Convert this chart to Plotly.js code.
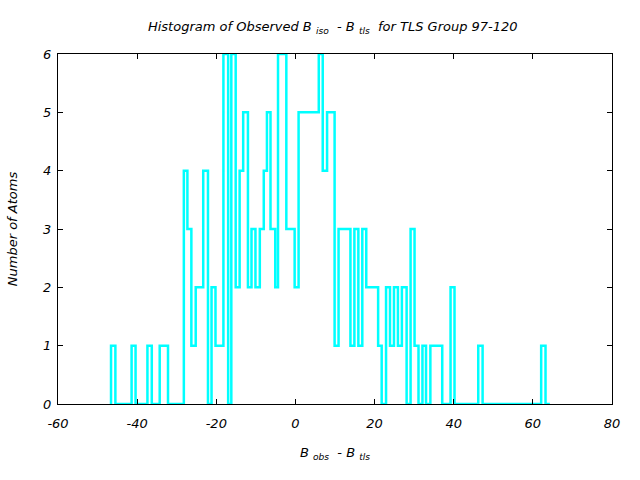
<!DOCTYPE html>
<html>
<head>
<meta charset="utf-8">
<script src="https://cdn.plot.ly/plotly-3.0.1.min.js"></script>
<style>html,body{margin:0;padding:0;background:#fff;}#chart{width:640px;height:480px;}</style>
</head>
<body>
<div id="chart"></div>
<script>
// Step edges (B_obs - B_tls) and count level after each edge
const binEdges = [-46.6, -46.6, -45.5, -41.4, -40.4, -37.4, -36.3, -34.3, -32.2,
  -28.2, -27.3, -26.3, -25.2, -23.3, -22.1, -21.2, -20.2, -18.2, -17.0, -16.2,
  -15.1, -14.1, -13.2, -12.0, -11.1, -10.1, -9.0, -8.0, -7.2, -6.3, -5.1, -4.4,
  -2.3, -0.2, 0.8, 5.9, 6.9, 8.0, 9.9, 10.9, 13.9, 14.9, 15.9, 16.9, 17.9, 20.9,
  21.8, 22.9, 23.9, 24.9, 25.9, 26.9, 28.1, 29.1, 30.1, 31.1, 32.1, 33.0, 34.1,
  37.1, 39.2, 40.2, 46.2, 47.3, 62.1, 63.2, 64.3];
const counts = [0, 1, 0, 1, 0, 1, 0, 1, 0,
  4, 3, 1, 2, 4, 0, 2, 1, 6, 0, 6,
  2, 4, 5, 2, 3, 2, 3, 4, 5, 3, 2, 6,
  3, 2, 5, 6, 4, 5, 1, 3, 1, 3, 1, 3, 2, 1,
  0, 2, 1, 2, 1, 2, 0, 3, 1, 0, 1, 0, 1,
  0, 2, 0, 1, 0, 1, 0, 0];
const xTicks = [-60, -40, -20, 0, 20, 40, 60, 80];
const yTicks = [0, 1, 2, 3, 4, 5, 6];

const fontFam = 'DejaVu Sans, sans-serif';
const txtFont = {family: fontFam, size: 13, color: '#000', style: 'italic'};
const trace = {
  x: binEdges, y: counts, type: 'scatter', mode: 'lines',
  line: {shape: 'hv', color: '#00ffff', width: 2.5},
  hoverinfo: 'skip'
};
const axisCommon = {
  showgrid: false, zeroline: false, showline: true, linecolor: '#000', linewidth: 1,
  mirror: 'ticks', ticks: 'inside', ticklen: 5, tickcolor: '#000', tickwidth: 1,
  tickfont: txtFont
};
const layout = {
  width: 640, height: 480,
  margin: {l: 58, r: 28, t: 54, b: 76},
  paper_bgcolor: '#fff', plot_bgcolor: '#fff',
  showlegend: false,
  title: {text: 'Histogram of Observed B <sub>iso</sub>  - B <sub>tls</sub>  for TLS Group 97-120',
    font: txtFont, x: 0.52, xanchor: 'center', y: 0.945, yanchor: 'middle'},
  xaxis: Object.assign({}, axisCommon, {
    range: [-60, 80], tickvals: xTicks, ticktext: xTicks.map(String),
    ticklabelstandoff: 7,
    title: {text: 'B <sub>obs</sub>  - B <sub>tls</sub>', standoff: 18, font: txtFont}
  }),
  yaxis: Object.assign({}, axisCommon, {
    range: [0, 6], tickvals: yTicks, ticktext: yTicks.map(String),
    ticklabelstandoff: 3,
    title: {text: 'Number of Atoms', standoff: 22, font: txtFont}
  })
};
Plotly.newPlot('chart', [trace], layout, {staticPlot: true, displayModeBar: false});
</script>
</body>
</html>
